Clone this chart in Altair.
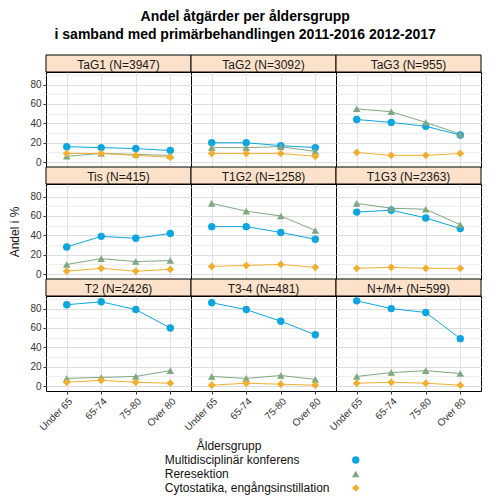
import altair as alt
import pandas as pd

ages = ["Under 65", "65-74", "75-80", "Over 80"]
series = ["Multidisciplinär konferens", "Reresektion", "Cytostatika, engångsinstillation"]
panels = ["TaG1 (N=3947)", "TaG2 (N=3092)", "TaG3 (N=955)",
          "Tis (N=415)", "T1G2 (N=1258)", "T1G3 (N=2363)",
          "T2 (N=2426)", "T3-4 (N=481)", "N+/M+ (N=599)"]

multi = [[16, 15, 14, 12], [20, 20, 17, 15], [44, 41, 37, 28],
         [28, 39, 37, 42], [49, 49, 43, 36], [64, 66, 58, 47],
         [84, 87, 79, 60], [86, 79, 67, 53], [88, 80, 76, 49]]
reres = [[6, 9, 8, 7], [15, 15, 16, 11], [55, 52, 41, 29],
         [10, 16, 13, 14], [73, 65, 60, 45], [73, 68, 67, 51],
         [8, 9, 10, 16], [10, 8, 11, 7], [10, 14, 16, 13]]
cyto = [[9, 9, 7, 5], [9, 9, 9, 6], [10, 7, 7, 9],
        [3, 6, 3, 5], [8, 9, 10, 7], [6, 7, 6, 6],
        [4, 6, 4, 3], [1, 3, 2, 1], [3, 4, 3, 1]]

colors = ["#0DA6E0", "#7FA882", "#F2AE2E"]
shapes = ["circle", "triangle-up", "diamond"]
sizes = [55, 60, 32]

rows = []
for p, name in enumerate(panels):
    for s, vals in zip(series, [multi[p], reres[p], cyto[p]]):
        for a, v in zip(ages, vals):
            rows.append({"panel": name, "series": s, "age": a, "value": v})
data = pd.DataFrame(rows)

W, H, SH = 145, 95, 17
FONT = "Liberation Sans"
STRIP_FILL = "#FDE2CB"

color_enc = alt.Color("series:N", scale=alt.Scale(domain=series, range=colors), legend=None)
shape_enc = alt.Shape("series:N", scale=alt.Scale(domain=series, range=shapes), legend=None)
size_enc = alt.Size("series:N", scale=alt.Scale(domain=series, range=sizes), legend=None)

grid_color = {"condition": {"test": "datum.value % 20 == 0", "value": "#DEDEDE"}, "value": "#EEEEEE"}
tick_color = {"condition": {"test": "datum.value % 20 == 0", "value": "#333333"}, "value": "transparent"}


def make_panel(i):
    col, row = i % 3, i // 3
    df = data[data.panel == panels[i]]
    if row == 2:
        xaxis = alt.Axis(title=None, grid=True, gridColor="#E2E2E2", domain=False,
                         labelAngle=315, labelAlign="right", labelBaseline="top",
                         labelFontSize=10, labelColor="#333333", labelFont=FONT,
                         tickColor="#333333", tickSize=3, labelPadding=2)
    else:
        xaxis = alt.Axis(title=None, grid=True, gridColor="#E2E2E2", domain=False,
                         labels=False, ticks=False)
    yvals = [0, 10, 20, 30, 40, 50, 60, 70, 80, 90]
    if col == 0:
        yaxis = alt.Axis(title="Andel i %" if row == 1 else None, values=yvals, grid=True,
                         gridColor=grid_color, tickColor=tick_color, tickSize=3,
                         labelExpr="datum.value % 20 == 0 ? datum.label : ''",
                         domain=False, labelFontSize=10, labelColor="#333333", labelFont=FONT,
                         labelPadding=2, titleFontSize=12, titleFont=FONT,
                         titleFontWeight="normal", titleColor="#111111", titlePadding=8)
    else:
        yaxis = alt.Axis(title=None, values=yvals, grid=True, gridColor=grid_color,
                         labels=False, ticks=False, domain=False)
    x = alt.X("age:N", sort=ages, scale=alt.Scale(type="point", padding=0.6), axis=xaxis)
    y = alt.Y("value:Q", scale=alt.Scale(domain=[-5, 93], nice=False, zero=False), axis=yaxis)
    base = alt.Chart(df)
    lines = base.mark_line(strokeWidth=1).encode(x=x, y=y, color=color_enc)
    pts = base.mark_point(filled=True, opacity=1).encode(
        x=x, y=y, color=color_enc, shape=shape_enc, size=size_enc)
    lab = alt.Chart(pd.DataFrame({"label": [panels[i]]}))
    strip_bg = lab.mark_rect(fill=STRIP_FILL, stroke="black", strokeWidth=1).encode(
        x=alt.value(0), x2=alt.value(W), y=alt.value(-SH), y2=alt.value(0))
    strip_txt = lab.mark_text(fontSize=12, font=FONT, color="#1A1A1A").encode(
        text="label:N", x=alt.value(W / 2), y=alt.value(-SH / 2 + 1))
    return alt.layer(lines, pts, strip_bg, strip_txt).properties(
        width=W, height=H, view=alt.ViewBackground(fill="white", stroke="black", strokeWidth=1))


grid = alt.concat(*[make_panel(i) for i in range(9)], columns=3,
                  spacing={"row": SH, "column": 0}, bounds="flush")

leg_df = pd.DataFrame({"series": series})
ly = alt.Y("series:N", sort=series, axis=None, scale=alt.Scale(paddingInner=0, paddingOuter=0))
leg_text = alt.Chart(leg_df).mark_text(align="left", fontSize=12, font=FONT, color="#111111").encode(
    text="series:N", y=ly, x=alt.value(21))
leg_pts = alt.Chart(leg_df).mark_point(filled=True, opacity=1).encode(
    y=ly, x=alt.value(212), color=color_enc, shape=shape_enc, size=size_enc)
legend = alt.layer(leg_text, leg_pts).properties(
    width=240, height=42,
    title=alt.TitleParams("Åldersgrupp", anchor="start", dx=53, fontSize=12, font=FONT,
                          fontWeight="normal", color="#111111", offset=0),
    view=alt.ViewBackground(stroke="transparent"))

chart = alt.vconcat(grid, legend, spacing=6, center=True).properties(
    title=alt.TitleParams(["Andel åtgärder per åldersgrupp",
                           "i samband med primärbehandlingen 2011-2016 2012-2017"],
                          fontSize=14, font=FONT, fontWeight="bold", anchor="middle",
                          lineHeight=18, offset=12, color="#000000"),
    padding={"top": 2, "left": 0, "right": 0, "bottom": 0},
).configure(font=FONT).configure_view(stroke="black")

chart.save("out.html", embed_options={"renderer": "svg", "actions": False})
